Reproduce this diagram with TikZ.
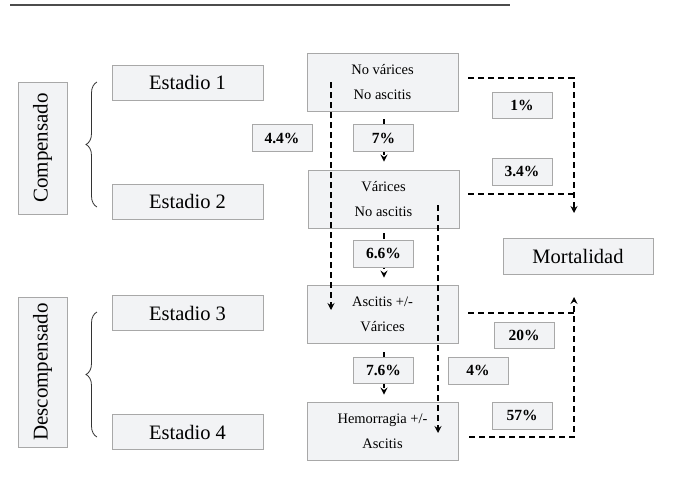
\documentclass[tikz,border=0pt]{standalone}
\usepackage{fontspec}
\setmainfont{Liberation Serif}
\usetikzlibrary{arrows.meta,decorations.pathreplacing}
\definecolor{boxfill}{HTML}{F2F3F5}
\definecolor{boxline}{HTML}{A8A8A8}
\tikzset{
  stagebox/.style={draw=boxline, fill=boxfill, line width=0.9pt, minimum width=151pt, minimum height=35pt, inner sep=0pt, font=\fontsize{20.5}{24}\selectfont},
  sidebox/.style={draw=boxline, fill=boxfill, line width=0.9pt, minimum height=49pt, inner sep=0pt, rotate=90, font=\fontsize{21}{24}\selectfont},
  statebox/.style={draw=boxline, fill=boxfill, line width=0.9pt, minimum width=151pt, minimum height=58pt, inner sep=0pt, align=center, font=\fontsize{14.5}{25}\selectfont},
  pctbox/.style={draw=boxline, fill=boxfill, line width=0.9pt, minimum width=60pt, minimum height=27pt, inner sep=0pt, font=\fontsize{15.5}{17}\selectfont\bfseries},
  dasharrow/.style={dash pattern=on 6pt off 4pt, line width=1.5pt, -{Stealth[length=7pt,width=7pt,inset=2.5pt]}},
  dashline/.style={dash pattern=on 6pt off 4pt, line width=1.5pt},
  bracestyle/.style={decorate, decoration={brace, amplitude=11pt}, line width=0.8pt, draw=black!80}
}
\begin{document}
\begin{tikzpicture}[x=1pt,y=-1pt]
\useasboundingbox (0,0) rectangle (674,493);
\draw[line width=2pt, draw=black!70] (10,5) -- (510,5);

% side labels (rotated: width runs along the text)
\node[sidebox, minimum width=132pt] (comp) at (42.5,148) {Compensado};
\node[sidebox, minimum width=150pt] (desc) at (42.5,372) {Descompensado};
% braces
\coordinate (b1a) at (97,207);
\coordinate (b1b) at (97,82);
\coordinate (b2a) at (97,437);
\coordinate (b2b) at (97,312);
\draw[bracestyle] (b1a) -- (b1b);
\draw[bracestyle] (b2a) -- (b2b);

% stages
\node[stagebox] (e1) at (187.5,82.5) {Estadio 1};
\node[stagebox] (e2) at (187.5,201.5) {Estadio 2};
\node[stagebox] (e3) at (187.5,313) {Estadio 3};
\node[stagebox] (e4) at (187.5,432) {Estadio 4};

% states
\node[statebox] (nv) at (382.5,82) {No várices\\No ascitis};
\node[statebox] (va) at (383.5,199) {Várices\\No ascitis};
\node[statebox] (as) at (382.5,314) {Ascitis +/-\\Várices};
\node[statebox] (he) at (382.5,431) {Hemorragia +/-\\Ascitis};
\node[stagebox, minimum width=150pt, minimum height=36pt] (mort) at (578,256) {Mortalidad};

% arrows between states
\draw[dasharrow, shorten <=8pt, shorten >=8pt] (nv.south -| 384,0) -- (va.north -| 384,0);
\draw[dasharrow, shorten <=5pt, shorten >=7pt] (va.south -| 384,0) -- (as.north -| 384,0);
\draw[dasharrow, shorten <=9pt, shorten >=7pt] (as.south -| 384,0) -- (he.north -| 384,0);

% long dashed arrows
\coordinate (l1s) at (331,82);
\coordinate (l1e) at (331,310);
\coordinate (l2s) at (438,205);
\coordinate (l2e) at (438,433);
\draw[dasharrow] (l1s) -- (l1e);
\draw[dasharrow] (l2s) -- (l2e);

% mortality paths
\coordinate (m1) at (574,78);
\coordinate (m1e) at (574,213);
\coordinate (m2) at (574,194);
\coordinate (m3) at (574,313);
\coordinate (m4) at (574,437);
\coordinate (m4e) at (574,297);
\draw[dasharrow] ([xshift=10pt]nv.east |- m1) -- (m1) -- (m1e);
\draw[dashline] ([xshift=9pt]va.east |- m2) -- (m2);
\draw[dashline] ([xshift=10pt]as.east |- m3) -- (m3);
\draw[dasharrow] ([xshift=11pt]he.east |- m4) -- (m4) -- (m4e);

% percentages
\node[pctbox] (p44) at (282,138) {4.4\%};
\node[pctbox] (p7) at (383.5,138) {7\%};
\node[pctbox, minimum height=26pt] (p1) at (522,105) {1\%};
\node[pctbox] (p34) at (522,171.5) {3.4\%};
\node[pctbox] (p66) at (383.5,253.5) {6.6\%};
\node[pctbox, minimum height=26pt] (p20) at (524,335) {20\%};
\node[pctbox, minimum height=26pt] (p76) at (383.5,370) {7.6\%};
\node[pctbox] (p4) at (478,370.5) {4\%};
\node[pctbox] (p57) at (522,415.5) {57\%};
\end{tikzpicture}
\end{document}
